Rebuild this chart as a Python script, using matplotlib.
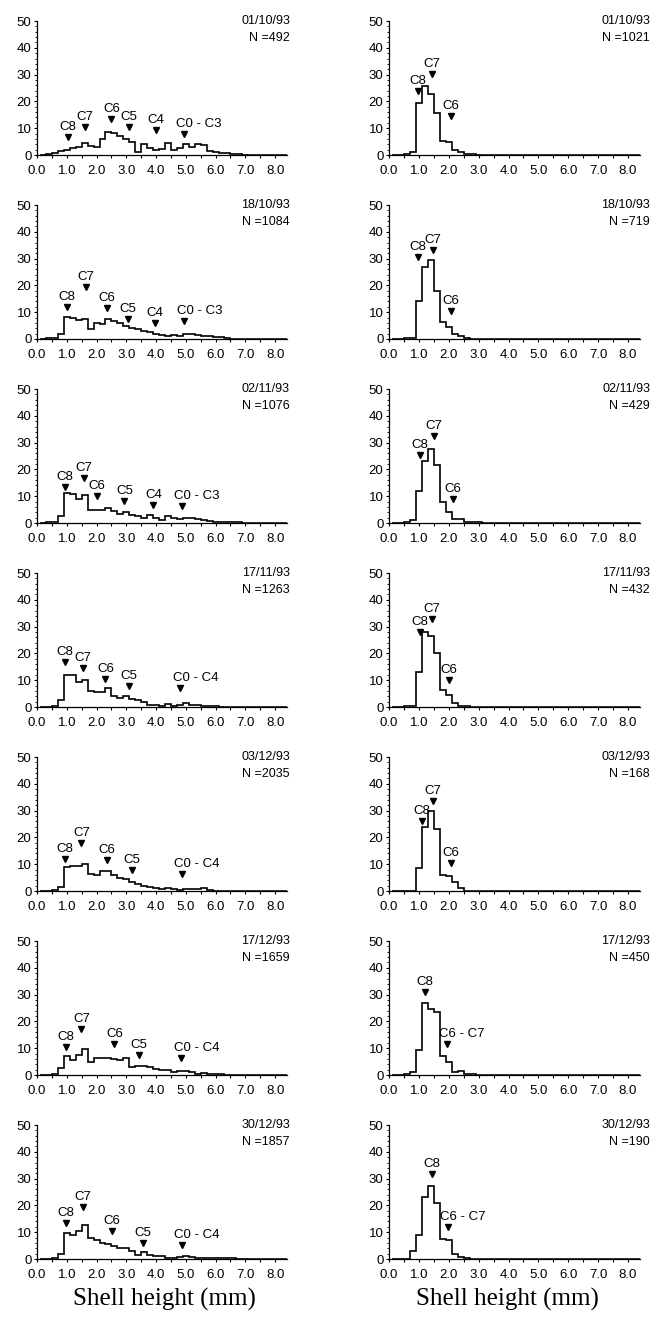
import numpy as np
import matplotlib
matplotlib.use('Agg')
import matplotlib.pyplot as plt
from matplotlib.ticker import MultipleLocator, FormatStrFormatter

plt.rcParams['font.family'] = ['Liberation Sans', 'DejaVu Sans']

# sampling dates and sample sizes (left and right columns)
dates = ['01/10/93', '18/10/93', '02/11/93', '17/11/93', '03/12/93', '17/12/93', '30/12/93']
n_left = [492, 1084, 1076, 1263, 2035, 1659, 1857]
n_right = [1021, 719, 429, 432, 168, 450, 190]

# % frequency per 0.2 mm shell height class, first class centred on 0.2 mm
h_left_1 = [0, 0.3, 0.8, 1.5, 2.0, 2.5, 3.0, 4.5, 3.2, 3.0, 6.0, 8.5, 8.3, 7.2, 6.0, 5.0, 1.2, 4.0,
            2.5, 2.0, 2.2, 4.5, 2.0, 2.5, 4.0, 2.8, 4.0, 3.8, 1.5, 1.2, 0.9, 0.6, 0.4, 0.2, 0.1]
h_left_2 = [0, 0.3, 0.3, 2.0, 8.2, 7.8, 7.2, 7.3, 3.8, 6.0, 5.5, 7.5, 6.8, 6.0, 5.0, 4.0, 3.8, 3.0,
            2.5, 2.0, 1.6, 1.3, 1.5, 1.2, 1.8, 2.0, 1.6, 1.2, 1.3, 0.8, 0.6, 0.3]
h_left_3 = [0, 0.2, 0.3, 2.5, 11.3, 11.0, 8.8, 10.5, 4.8, 5.0, 5.0, 5.6, 4.5, 3.5, 4.0, 3.0, 2.5, 2.0,
            3.0, 2.0, 1.0, 2.5, 2.0, 1.5, 2.0, 1.8, 1.5, 1.2, 0.6, 0.4, 0.4, 0.4, 0.3, 0.2]
h_left_4 = [0, 0, 0.3, 2.5, 12.0, 12.0, 9.5, 10.0, 6.0, 5.5, 5.5, 7.0, 4.0, 3.5, 4.0, 3.0, 2.5, 2.0,
            0.8, 0.6, 0.5, 1.0, 0.5, 0.8, 1.5, 0.8, 0.8, 0.5, 0.3, 0.2, 0.1]
h_left_5 = [0, 0, 0.3, 1.5, 8.8, 9.5, 9.5, 10.0, 6.5, 6.0, 7.5, 7.5, 6.0, 5.0, 4.5, 3.5, 2.5, 2.0,
            1.5, 1.0, 0.8, 1.0, 0.8, 0.5, 0.8, 0.6, 0.8, 1.0, 0.3, 0.1]
h_left_6 = [0, 0, 0.2, 2.5, 7.0, 5.5, 7.5, 9.6, 5.0, 6.5, 6.5, 6.2, 5.8, 5.5, 6.5, 3.0, 3.5, 3.2,
            2.8, 2.3, 2.0, 2.0, 1.2, 1.5, 1.5, 1.0, 0.5, 0.8, 0.4, 0.3, 0.2, 0.1]
h_left_7 = [0, 0, 0.3, 2.0, 9.8, 9.0, 10.5, 12.7, 8.0, 7.0, 6.0, 5.5, 5.0, 4.2, 4.0, 3.0, 1.5, 2.5,
            1.5, 1.3, 1.0, 0.5, 0.5, 0.8, 1.0, 0.6, 0.5, 0.5, 0.5, 0.4, 0.3, 0.2, 0.2, 0.1, 0.1]

h_right_1 = [0, 0, 0.3, 1.0, 19.5, 25.8, 22.8, 15.8, 5.2, 5.0, 2.0, 1.0, 0.4, 0.2, 0.1]
h_right_2 = [0, 0, 0.3, 0.5, 14.0, 27.0, 29.3, 18.0, 6.5, 4.5, 2.0, 1.0, 0.3]
h_right_3 = [0, 0, 0.3, 1.0, 11.8, 23.0, 27.5, 21.8, 8.0, 4.0, 1.5, 1.5, 0.5, 0.3, 0.2]
h_right_4 = [0, 0, 0.3, 0.5, 13.0, 27.8, 26.5, 20.0, 6.5, 4.5, 1.5, 0.5, 0.3]
h_right_5 = [0, 0, 0, 0, 8.5, 24.0, 30.0, 23.0, 6.0, 5.5, 3.5, 1.0]
h_right_6 = [0, 0, 0.3, 1.0, 9.5, 27.0, 24.5, 23.5, 7.0, 5.0, 1.0, 1.5, 0.5, 0.2]
h_right_7 = [0, 0, 0, 3.0, 9.0, 23.2, 27.4, 21.0, 7.5, 7.0, 2.0, 0.8, 0.2]

# cohort markers: (label, height mm, % level)
m_left_1 = [('C8', 1.05, 6.8), ('C7', 1.6, 10.5), ('C6', 2.5, 13.4), ('C5', 3.1, 10.5), ('C4', 4.0, 9.5), ('C0 - C3', 4.93, 8.0)]
m_left_2 = [('C8', 1.0, 11.8), ('C7', 1.65, 19.5), ('C6', 2.35, 11.5), ('C5', 3.05, 7.4), ('C4', 3.97, 5.8), ('C0 - C3', 4.95, 6.8)]
m_left_3 = [('C8', 0.95, 13.6), ('C7', 1.58, 16.7), ('C6', 2.01, 10.0), ('C5', 2.94, 8.1), ('C4', 3.91, 6.6), ('C0 - C3', 4.87, 6.3)]
m_left_4 = [('C8', 0.95, 16.8), ('C7', 1.54, 14.6), ('C6', 2.3, 10.5), ('C5', 3.08, 8.0), ('C0 - C4', 4.82, 7.2)]
m_left_5 = [('C8', 0.93, 12.0), ('C7', 1.49, 18.0), ('C6', 2.35, 11.5), ('C5', 3.2, 7.7), ('C0 - C4', 4.87, 6.5)]
m_left_6 = [('C8', 0.98, 10.5), ('C7', 1.49, 17.0), ('C6', 2.6, 11.5), ('C5', 3.42, 7.4), ('C0 - C4', 4.84, 6.5)]
m_left_7 = [('C8', 0.96, 13.3), ('C7', 1.54, 19.5), ('C6', 2.53, 10.4), ('C5', 3.55, 6.1), ('C0 - C4', 4.87, 5.2)]

m_right_1 = [('C8', 0.98, 23.8), ('C7', 1.43, 30.3), ('C6', 2.06, 14.5)]
m_right_2 = [('C8', 0.98, 30.5), ('C7', 1.47, 33.3), ('C6', 2.08, 10.5)]
m_right_3 = [('C8', 1.04, 25.4), ('C7', 1.51, 32.4), ('C6', 2.14, 9.0)]
m_right_4 = [('C8', 1.04, 27.8), ('C7', 1.43, 33.0), ('C6', 2.0, 10.1)]
m_right_5 = [('C8', 1.1, 26.2), ('C7', 1.47, 33.7), ('C6', 2.08, 10.4)]
m_right_6 = [('C8', 1.21, 31.1), ('C6 - C7', 1.94, 11.4)]
m_right_7 = [('C8', 1.43, 31.6), ('C6 - C7', 1.97, 12.0)]

left_hists = [h_left_1, h_left_2, h_left_3, h_left_4, h_left_5, h_left_6, h_left_7]
right_hists = [h_right_1, h_right_2, h_right_3, h_right_4, h_right_5, h_right_6, h_right_7]
left_marks = [m_left_1, m_left_2, m_left_3, m_left_4, m_left_5, m_left_6, m_left_7]
right_marks = [m_right_1, m_right_2, m_right_3, m_right_4, m_right_5, m_right_6, m_right_7]

W, H = 655, 1324
fig = plt.figure(figsize=(W / 100, H / 100), dpi=100)


def panel(ax, vals, marks, date, n, txt_x):
    vals = np.array(vals)
    edges = 0.1 + 0.2 * np.arange(len(vals) + 1)
    ax.stairs(vals, edges, color='k', lw=1.2)
    ax.plot([edges[-1], 8.4], [0, 0], color='k', lw=1.1)

    for lab, x, y in marks:
        ax.plot(x, y, marker='v', ms=4, color='k', ls='none')
        if '-' in lab:
            ax.text(x - 0.25, y + 1.5, lab, ha='left', va='bottom', fontsize=9.5)
        else:
            ax.text(x, y + 1.5, lab, ha='center', va='bottom', fontsize=9.5)

    ax.text(txt_x, 1.0, date, transform=ax.transAxes, ha='right', va='center', fontsize=9)
    ax.text(txt_x, 0.875, 'N =%d' % n, transform=ax.transAxes, ha='right', va='center', fontsize=9)

    ax.set_xlim(0, 8.4)
    ax.set_ylim(0, 50)
    ax.spines['top'].set_visible(False)
    ax.spines['right'].set_visible(False)
    ax.xaxis.set_major_locator(MultipleLocator(1.0))
    ax.xaxis.set_minor_locator(MultipleLocator(0.5))
    ax.xaxis.set_major_formatter(FormatStrFormatter('%.1f'))
    ax.yaxis.set_major_locator(MultipleLocator(10))
    ax.yaxis.set_minor_locator(MultipleLocator(2))
    ax.tick_params(axis='x', which='both', direction='out', length=2.5, width=0.8, labelsize=9.5, pad=4.5)
    ax.tick_params(axis='y', which='major', direction='out', length=2.5, width=0.8, labelsize=9.5, pad=1.5)
    ax.tick_params(axis='y', which='minor', direction='out', length=1.5, width=0.6)
    for s in ['left', 'bottom']:
        ax.spines[s].set_linewidth(0.9)


for i in range(7):
    top = 21 + 184 * i
    bottom = 1 - (top + 134) / H
    axL = fig.add_axes([37 / W, bottom, 250 / W, 134 / H])
    axR = fig.add_axes([389 / W, bottom, 251 / W, 134 / H])
    panel(axL, left_hists[i], left_marks[i], dates[i], n_left[i], 1.012)
    panel(axR, right_hists[i], right_marks[i], dates[i], n_right[i], 1.04)

fig.text(164 / W, 1 - 1299 / H, 'Shell height (mm)', family='Liberation Serif', fontsize=18, ha='center', va='center')
fig.text(507 / W, 1 - 1299 / H, 'Shell height (mm)', family='Liberation Serif', fontsize=18, ha='center', va='center')

plt.savefig('out.png', dpi=100)
